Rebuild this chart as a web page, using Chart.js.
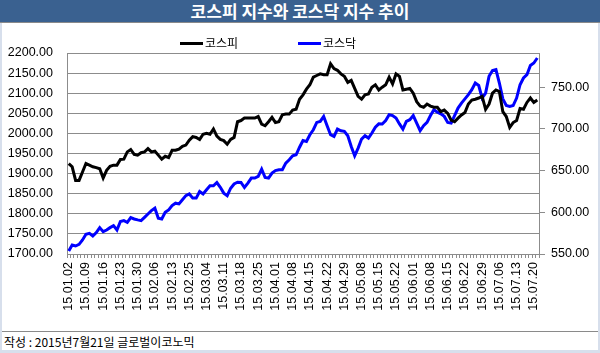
<!DOCTYPE html>
<html>
<head>
<meta charset="utf-8">
<script src="https://cdn.jsdelivr.net/npm/chart.js@4"></script>
<style>
  body { margin: 0; width: 600px; height: 353px; background: #d7dfec; position: relative; overflow: hidden; }
  #title { position: absolute; left: 0; top: 0; width: 600px; height: 22px; background: #3a6190; border-bottom: 1px solid #8a8a8a;
           color: #fff; font: bold 17px "Noto Sans CJK KR", sans-serif; text-align: center; line-height: 22px; }
  #box { position: absolute; left: 2px; top: 23px; width: 596px; height: 308px; background: #fff; }
  #foot { position: absolute; left: 2px; top: 331px; width: 596px; height: 19px; background: #fff; border-top: 1px solid #8a8a8a;
          font: 12px "Noto Sans CJK KR", sans-serif; line-height: 19px; padding-left: 2px; box-sizing: border-box; }
  .leg { position: absolute; top: 35px; height: 16px; font: 12px "Noto Sans CJK KR", sans-serif; line-height: 16px; color: #000; }
  .leg i { display: inline-block; width: 23px; height: 3px; vertical-align: middle; margin-right: 2px; position: relative; top: -1px; }
</style>
</head>
<body>
<div id="title">코스피 지수와 코스닥 지수 추이</div>
<div id="box"><canvas id="my-chart" width="596" height="308"></canvas></div>
<div id="legend"></div>
<div id="foot">작성 : 2015년7월21일 글로벌이코노믹</div>
<script>
// trading days 2015.01.02 ~ 2015.07.21
let dates = [
  "15.01.02","15.01.05","15.01.06","15.01.07","15.01.08","15.01.09","15.01.12","15.01.13","15.01.14","15.01.15",
  "15.01.16","15.01.19","15.01.20","15.01.21","15.01.22","15.01.23","15.01.26","15.01.27","15.01.28","15.01.29",
  "15.01.30","15.02.02","15.02.03","15.02.04","15.02.05","15.02.06","15.02.09","15.02.10","15.02.11","15.02.12",
  "15.02.13","15.02.16","15.02.17","15.02.23","15.02.24","15.02.25","15.02.26","15.02.27","15.03.02","15.03.03",
  "15.03.04","15.03.05","15.03.06","15.03.09","15.03.10","15.03.11","15.03.12","15.03.13","15.03.16","15.03.17",
  "15.03.18","15.03.19","15.03.20","15.03.23","15.03.24","15.03.25","15.03.26","15.03.27","15.03.30","15.03.31",
  "15.04.01","15.04.02","15.04.03","15.04.06","15.04.07","15.04.08","15.04.09","15.04.10","15.04.13","15.04.14",
  "15.04.15","15.04.16","15.04.17","15.04.20","15.04.21","15.04.22","15.04.23","15.04.24","15.04.27","15.04.28",
  "15.04.29","15.04.30","15.05.04","15.05.06","15.05.07","15.05.08","15.05.11","15.05.12","15.05.13","15.05.14",
  "15.05.15","15.05.18","15.05.19","15.05.20","15.05.21","15.05.22","15.05.26","15.05.27","15.05.28","15.05.29",
  "15.06.01","15.06.02","15.06.03","15.06.04","15.06.05","15.06.08","15.06.09","15.06.10","15.06.11","15.06.12",
  "15.06.15","15.06.16","15.06.17","15.06.18","15.06.19","15.06.22","15.06.23","15.06.24","15.06.25","15.06.26",
  "15.06.29","15.06.30","15.07.01","15.07.02","15.07.03","15.07.06","15.07.07","15.07.08","15.07.09","15.07.10",
  "15.07.13","15.07.14","15.07.15","15.07.16","15.07.17","15.07.20","15.07.21"
];

let kospi = [
  1925,1917,1883,1883,1904,1925,1921,1917,1915,1912,
  1889,1908,1918,1921,1921,1935,1936,1954,1960,1948,
  1946,1952,1954,1962,1954,1956,1946,1936,1943,1940,
  1958,1958,1961,1968,1971,1983,1992,1990,1985,1998,
  2000,1998,2011,1993,1985,1982,1973,1985,1990,2029,
  2032,2038,2038,2038,2038,2042,2023,2019,2029,2040,
  2027,2029,2046,2048,2048,2058,2060,2085,2096,2110,
  2121,2140,2144,2148,2146,2146,2173,2161,2157,2148,
  2142,2127,2132,2112,2092,2085,2096,2098,2115,2121,
  2108,2115,2121,2140,2123,2148,2142,2108,2110,2112,
  2100,2079,2068,2065,2073,2068,2065,2065,2054,2058,
  2050,2033,2029,2038,2046,2052,2073,2083,2085,2088,
  2092,2060,2073,2100,2108,2104,2054,2042,2015,2027,
  2032,2062,2060,2077,2088,2077,2083
];

let kosdaq = [
  553.6,560.8,559.6,561.6,566.8,573.6,574.8,571.6,575.6,581.6,
  576.8,578.8,581.6,584.0,578.8,588.9,590.0,588.0,593.7,592.0,
  590.9,590.0,594.0,598.0,602.0,604.9,592.9,592.0,600.0,602.9,
  608.0,610.9,610.0,615.0,620.0,622.0,617.0,617.0,625.0,622.0,
  627.0,631.7,631.7,635.7,630.0,623.0,620.0,628.9,634.0,636.0,
  635.7,629.7,635.0,641.0,641.0,643.0,651.7,641.7,641.0,647.0,
  650.0,651.0,651.0,659.0,663.0,667.8,669.0,678.0,686.0,685.0,
  693.0,699.0,707.8,709.0,715.0,703.8,693.0,691.0,699.8,697.8,
  697.0,691.8,679.0,667.8,677.0,687.8,691.8,689.0,695.0,702.0,
  706.0,705.8,710.0,717.0,716.0,713.0,706.0,699.8,709.0,711.0,
  716.0,707.0,697.8,703.8,707.8,716.0,723.0,720.0,718.0,715.0,
  707.8,707.0,716.0,725.0,731.0,736.0,741.0,747.0,755.0,752.0,
  737.0,743.0,763.0,770.0,771.0,755.0,736.0,728.0,727.0,728.0,
  737.0,753.0,761.0,765.0,776.0,779.0,785.0
];

let seriesNames = ["코스피", "코스닥"];
let seriesColors = ["#000000", "#0000ff"];
let leftTicks = { min: 1700, max: 2200, step: 50 };
let rightTicks = { min: 550, max: 791, step: 50, lastLabel: 750 };

const gridGray = "#8c8c8c";
const numFont = { family: "Liberation Sans", size: 12.5 };

// legend row (left of centre like the original)
const legendX = [180, 298];
document.getElementById("legend").innerHTML = seriesNames
  .map((n, i) => `<div class="leg" style="left:${legendX[i]}px"><i style="background:${seriesColors[i]}"></i>${n}</div>`)
  .join("");

let myChart = document.getElementById("my-chart").getContext("2d");

let stockChart = new Chart(myChart, {
  type: "line",
  data: {
    labels: dates,
    datasets: [
      {
        label: seriesNames[0],
        data: kospi,
        borderColor: seriesColors[0],
        backgroundColor: seriesColors[0],
        borderWidth: 3,
        pointRadius: 0,
        tension: 0,
        yAxisID: "y",
      },
      {
        label: seriesNames[1],
        data: kosdaq,
        borderColor: seriesColors[1],
        backgroundColor: seriesColors[1],
        borderWidth: 3,
        pointRadius: 0,
        tension: 0,
        yAxisID: "y2",
      },
    ],
  },
  options: {
    responsive: false,
    animation: false,
    layout: { padding: { top: 30, bottom: 0, left: 0, right: 0 } },
    plugins: {
      tooltip: { enabled: false },
      legend: { display: false },
    },
    scales: {
      x: {
        offset: true,
        grid: { drawOnChartArea: false, color: gridGray, tickLength: 4, offset: true },
        border: { color: gridGray },
        ticks: {
          autoSkip: false,
          maxRotation: 90,
          minRotation: 90,
          padding: 4,
          color: "#000",
          font: numFont,
          callback: (v, i) => (i % 5 === 0 ? dates[i] : ""),
        },
        afterFit: (s) => { s.height = 77; },
      },
      y: {
        position: "left",
        min: leftTicks.min,
        max: leftTicks.max,
        grid: { color: gridGray, tickLength: 0 },
        border: { color: gridGray },
        ticks: {
          stepSize: leftTicks.step,
          padding: 14,
          color: "#000",
          font: numFont,
          callback: (v) => v.toFixed(2),
        },
        afterFit: (s) => { s.width = 65; },
      },
      y2: {
        position: "right",
        min: rightTicks.min,
        max: rightTicks.max,
        grid: { drawOnChartArea: false, color: gridGray, tickLength: 6 },
        border: { color: gridGray },
        ticks: {
          stepSize: rightTicks.step,
          padding: 6,
          color: "#000",
          font: numFont,
          callback: (v) => v.toFixed(2),
        },
        afterBuildTicks: (s) => {
          s.ticks = s.ticks.filter((t) => t.value % 50 === 0 && t.value <= rightTicks.lastLabel);
        },
        afterFit: (s) => { s.width = 59; },
      },
    },
  },
});
</script>
</body>
</html>
